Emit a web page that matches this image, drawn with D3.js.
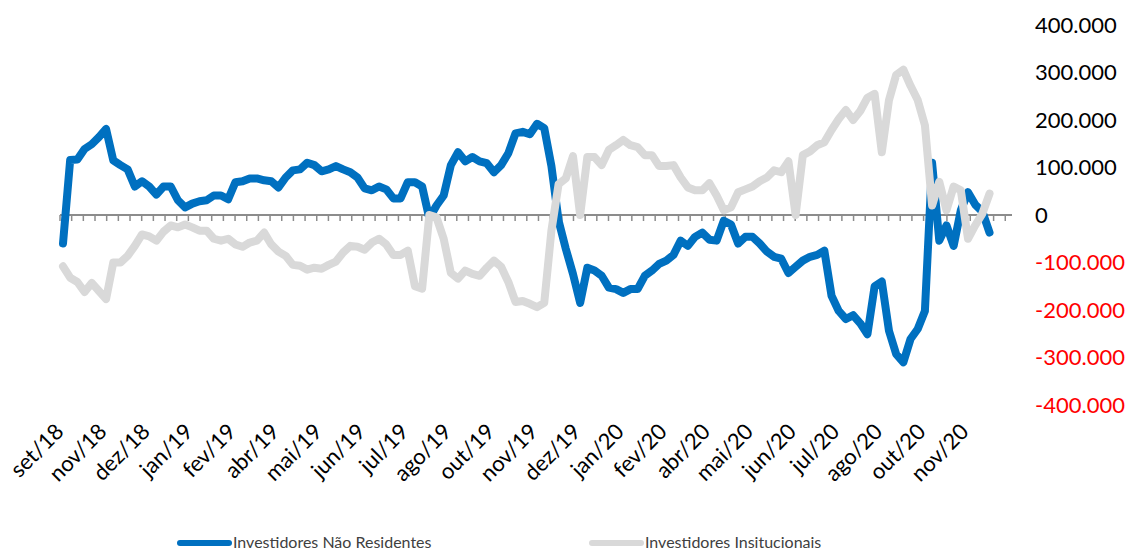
<!DOCTYPE html>
<html lang="pt">
<head>
  <meta charset="UTF-8">
  <title>Investidores</title>
  <style>
    body { margin: 0; background: #fff; }
    text { font-family: Lato, "Open Sans", sans-serif; }
  </style>
</head>
<body>
  <svg id="chart" width="1132" height="551"></svg>

  <script src="https://d3js.org/d3.v7.min.js"></script>
  <script>
    // month labels on the x axis (one every 6 samples)
    const labels = ['set/18', 'nov/18', 'dez/18', 'jan/19', 'fev/19', 'abr/19', 'mai/19', 'jun/19',
      'jul/19', 'ago/19', 'out/19', 'nov/19', 'dez/19', 'jan/20', 'fev/20', 'abr/20', 'mai/20',
      'jun/20', 'jul/20', 'ago/20', 'out/20', 'nov/20']

    // values in thousands
    const naoResidentes = [
      -60, 116, 117, 139, 149, 164, 181, 115, 105, 96,
      60, 71, 60, 43, 60, 60, 31, 16, 24, 29,
      31, 41, 41, 33, 69, 71, 77, 77, 73, 71,
      58, 79, 94, 96, 110, 105, 92, 96, 103, 96,
      90, 79, 56, 52, 60, 54, 35, 35, 69, 69,
      60, -7, 20, 41, 105, 132, 113, 122, 113, 109,
      90, 105, 130, 172, 175, 170, 192, 183, 103, -12,
      -71, -124, -185, -111, -117, -128, -153, -156, -164, -156,
      -156, -128, -117, -103, -96, -84, -54, -65, -46, -37,
      -52, -54, -12, -20, -60, -46, -46, -60, -77, -88,
      -92, -122, -109, -96, -88, -84, -75, -170, -202, -219,
      -211, -228, -251, -150, -140, -244, -293, -310, -261, -240,
      -202, 110, -54, -22, -65, 10, 48, 22, 7, -37
    ]

    const institucionais = [
      -108, -132, -141, -162, -143, -160, -177, -100, -100, -86,
      -65, -41, -45, -54, -35, -22, -26, -20, -26, -33,
      -33, -50, -54, -50, -62, -67, -58, -54, -37, -62,
      -77, -86, -105, -107, -115, -111, -113, -105, -98, -79,
      -65, -67, -73, -58, -50, -62, -84, -84, -75, -150,
      -155, 0, -5, -50, -122, -134, -117, -124, -128, -111,
      -96, -109, -141, -183, -181, -187, -194, -185, -33, 65,
      77, 124, 0, 122, 122, 105, 137, 147, 158, 147,
      143, 126, 126, 103, 103, 105, 79, 58, 52, 52,
      67, 41, 10, 16, 48, 54, 60, 71, 79, 94,
      90, 113, 0, 126, 134, 147, 153, 179, 202, 221,
      200, 219, 247, 255, 132, 242, 295, 306, 272, 242,
      189, 20, 70, 10, 60, 52, -50, -22, 3, 45
    ]

    const yTicks = [400, 300, 200, 100, 0, -100, -200, -300, -400]
    const yTickLabels = ['400.000', '300.000', '200.000', '100.000', '0',
      '-100.000', '-200.000', '-300.000', '-400.000']

    const seriesNames = ['Investidores Não Residentes', 'Investidores Insitucionais']
    const colors = ['#0070C0', '#D9D9D9']

    const perLabel = 6

    const svg = d3.select('#chart')

    const xscale = d3.scaleLinear()
      .domain([0, (labels.length - 1) * perLabel])
      .range([63, 968])

    const yscale = d3.scaleLinear()
      .domain([-400, 400])
      .range([405, 25])

    // category axis at zero, with small ticks below
    const step = xscale.invert(63 + 11.67) - xscale.invert(63)
    const axisStart = xscale.invert(60)
    const axisEnd = xscale.invert(1012)
    const axisG = svg.append('g')
    axisG.append('line')
      .attr('x1', xscale(axisStart)).attr('x2', xscale(axisEnd))
      .attr('y1', yscale(0)).attr('y2', yscale(0))
      .attr('stroke', '#8c8c8c').attr('stroke-width', 2)
    axisG.selectAll('line.tick')
      .data(d3.range(axisStart, axisEnd - step * 0.5, step))
      .enter()
      .append('line')
      .attr('class', 'tick')
      .attr('x1', d => xscale(d)).attr('x2', d => xscale(d))
      .attr('y1', yscale(0)).attr('y2', yscale(0) + 6)
      .attr('stroke', '#8c8c8c').attr('stroke-width', 1.5)

    // lines
    const line = d3.line()
      .x((d, i) => xscale(i))
      .y(d => yscale(d))

    ;[naoResidentes, institucionais].forEach((s, k) => {
      svg.append('path')
        .datum(s)
        .attr('fill', 'none')
        .attr('stroke', colors[k])
        .attr('stroke-width', 8)
        .attr('stroke-linejoin', 'round')
        .attr('stroke-linecap', 'round')
        .attr('d', line)
    })

    // right value labels
    svg.append('g')
      .selectAll('text')
      .data(yTicks)
      .enter()
      .append('text')
      .attr('x', 1035)
      .attr('y', d => yscale(d))
      .attr('dy', '0.35em')
      .attr('font-size', 22)
      .attr('fill', d => d < 0 ? '#FF0000' : '#000')
      .text((d, i) => yTickLabels[i])

    // rotated month labels
    svg.append('g')
      .selectAll('text')
      .data(labels)
      .enter()
      .append('text')
      .attr('transform', (d, i) => `translate(${xscale(i * perLabel) + 2}, 433) rotate(-45)`)
      .attr('text-anchor', 'end')
      .attr('font-size', 22)
      .attr('fill', '#000')
      .text(d => d)

    // legend
    const legend = svg.append('g')
    const legendX = [180, 592]
    seriesNames.forEach((name, k) => {
      legend.append('line')
        .attr('x1', legendX[k]).attr('x2', legendX[k] + 49)
        .attr('y1', 543).attr('y2', 543)
        .attr('stroke', colors[k]).attr('stroke-width', 6)
        .attr('stroke-linecap', 'round')
      legend.append('text')
        .attr('x', legendX[k] + 53)
        .attr('y', 548)
        .attr('font-size', 16)
        .attr('fill', '#404040')
        .text(name)
    })
  </script>
</body>
</html>
